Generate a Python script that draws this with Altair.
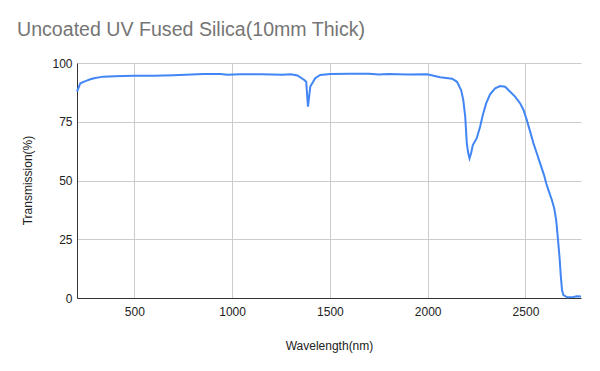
import altair as alt
import pandas as pd

wavelength = [207, 224, 250, 275, 300, 341, 400, 495, 597, 700, 853, 940, 975, 1042,
              1150, 1257, 1300, 1334, 1369, 1379, 1388, 1400, 1425, 1451, 1502, 1600,
              1700, 1750, 1800, 1900, 1997, 2064, 2125, 2150, 2171, 2182, 2192, 2200,
              2206, 2214, 2222, 2231, 2251, 2268, 2282, 2299, 2319, 2345, 2371, 2396,
              2422, 2447, 2473, 2490, 2507, 2524, 2541, 2558, 2575, 2595, 2606, 2617,
              2635, 2647, 2657, 2665, 2674, 2681, 2687, 2694, 2714, 2745, 2763, 2784]
transmission = [87.8, 91.4, 92.3, 93.1, 93.6, 94.2, 94.4, 94.6, 94.6, 94.8, 95.3, 95.3, 95.0, 95.2,
                95.2, 95.0, 95.2, 94.7, 92.8, 92.0, 81.4, 90.0, 93.5, 94.9, 95.3, 95.4,
                95.4, 95.1, 95.3, 95.1, 95.2, 93.9, 93.3, 92.0, 88.5, 84.3, 77.2, 66.0,
                62.3, 59.4, 61.6, 65.1, 68.0, 72.9, 77.9, 82.8, 86.7, 89.2, 90.2, 89.9,
                87.8, 85.7, 82.8, 80.0, 75.7, 70.8, 65.8, 61.6, 57.3, 52.3, 48.8, 46.0,
                41.7, 38.2, 33.2, 26.1, 17.6, 9.1, 3.4, 1.2, 0.3, 0.4, 0.7, 0.6]

x_ticks = [500, 1000, 1500, 2000, 2500]
y_ticks = [0, 25, 50, 75, 100]

df = pd.DataFrame({"Wavelength": wavelength, "Transmission": transmission})

FONT = "Liberation Sans"

chart = alt.Chart(df).mark_line(color="#4285F4", strokeWidth=2).encode(
    x=alt.X("Wavelength:Q",
            scale=alt.Scale(domain=[207, 2784], nice=False, zero=False),
            axis=alt.Axis(values=x_ticks, title="Wavelength(nm)", ticks=False,
                          format="d", labelPadding=8, titleY=51,
                          titleBaseline="alphabetic", labelFlush=False)),
    y=alt.Y("Transmission:Q",
            scale=alt.Scale(domain=[0, 100], nice=False),
            axis=alt.Axis(values=y_ticks, title="Transmission(%)", ticks=False,
                          format="d", labelPadding=5, titleX=-50, titleY=117,
                          titleBaseline="middle", titleAlign="center")),
).properties(
    width=504,
    height=235,
    title=alt.TitleParams("Uncoated UV Fused Silica(10mm Thick)", anchor="start",
                          frame="group", dx=-60, offset=16),
    autosize=alt.AutoSizeParams(type="none"),
    padding={"left": 69, "top": 55, "right": 11, "bottom": 65},
).configure_view(
    stroke=None
).configure_axis(
    labelFont=FONT, titleFont=FONT, labelFontSize=12, titleFontSize=12,
    labelColor="#222222", titleColor="#222222", titleFontWeight="normal",
    gridColor="#cccccc", gridWidth=1, domainColor="#333333", domainWidth=1,
).configure_title(
    font=FONT, fontSize=19.6, color="#757575", fontWeight="normal"
)

chart.save("out.html", embed_options={"renderer": "svg", "actions": False})
